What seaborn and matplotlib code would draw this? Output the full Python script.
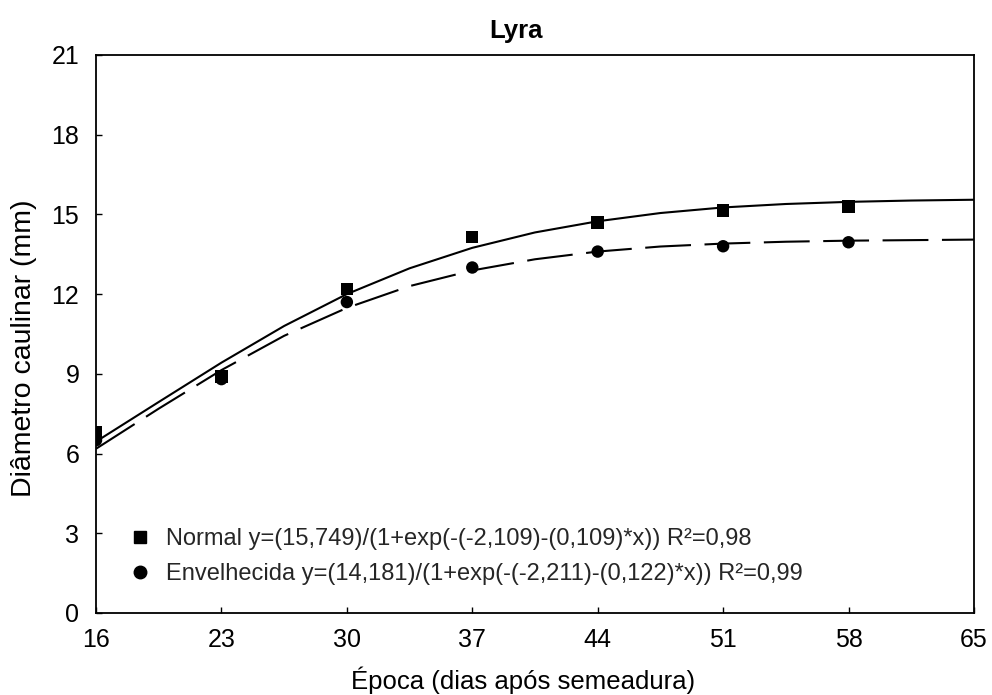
import matplotlib
matplotlib.use("Agg")
import matplotlib.pyplot as plt
from matplotlib.lines import Line2D
import seaborn as sns
import pandas as pd

# ---- data ----
days = [16, 23, 30, 37, 44, 51, 58]
normal_obs = [6.8, 8.9, 12.2, 14.15, 14.7, 15.15, 15.3]
aged_obs = [6.5, 8.8, 11.7, 13.0, 13.6, 13.8, 13.95]

curve_x = [16, 19.5, 23, 26.5, 30, 33.5, 37, 40.5, 44, 47.5, 51, 54.5, 58, 61.5, 65]
normal_fit = [6.45, 7.94, 9.42, 10.80, 12.00, 12.97, 13.74, 14.32, 14.74, 15.05, 15.26, 15.39, 15.47, 15.52, 15.55]
aged_fit = [6.18, 7.69, 9.14, 10.43, 11.48, 12.30, 12.89, 13.31, 13.60, 13.79, 13.90, 13.97, 14.01, 14.03, 14.05]

x_ticks = [16, 23, 30, 37, 44, 51, 58, 65]
y_ticks = [0, 3, 6, 9, 12, 15, 18, 21]

labels = ["Normal y=(15,749)/(1+exp(-(-2,109)-(0,109)*x)) R²=0,98",
          "Envelhecida y=(14,181)/(1+exp(-(-2,211)-(0,122)*x)) R²=0,99"]

sns.set_theme(style="ticks")
plt.rcParams['font.family'] = ['Liberation Sans', 'DejaVu Sans']

obs = pd.DataFrame({"x": days * 2, "y": normal_obs + aged_obs,
                    "g": ["Normal"] * len(days) + ["Envelhecida"] * len(days)})
fit_n = pd.DataFrame({"x": curve_x, "y": normal_fit})
fit_a = pd.DataFrame({"x": curve_x, "y": aged_fit})

fig = plt.figure(figsize=(9.92, 6.95), dpi=100)
ax = fig.add_axes([0.0968, 0.118, 0.885, 0.803])

sns.lineplot(data=fit_n, x="x", y="y", ax=ax, color="black", linewidth=1.5)
sns.lineplot(data=fit_a, x="x", y="y", ax=ax, color="black", linewidth=1.5)
ax.lines[-1].set_dashes((22, 6.5))
sns.scatterplot(data=obs, x="x", y="y", hue="g", style="g",
                markers={"Normal": "s", "Envelhecida": "o"},
                palette={"Normal": "black", "Envelhecida": "black"},
                s=80, ax=ax, legend=False, edgecolor="black", linewidth=0)

ax.set_xlim(16, 65)
ax.set_ylim(0, 21)
ax.set_xticks(x_ticks)
ax.set_yticks(y_ticks)
ax.tick_params(axis="both", labelsize=18, length=4, width=1, color="black",
               labelcolor="black", direction="in")
ax.tick_params(axis="x", pad=11)
ax.tick_params(axis="y", pad=12)
for sp in ax.spines.values():
    sp.set_visible(True)
    sp.set_color("black")
    sp.set_linewidth(1.3)

ax.set_xlabel("Época (dias após semeadura)", fontsize=18.5, color="black")
ax.set_ylabel("Diâmetro caulinar (mm)", fontsize=20.5, color="black")
ax.xaxis.set_label_coords(0.486, -0.095)
ax.yaxis.set_label_coords(-0.067, 0.475)
ax.set_title("Lyra", fontsize=18.5, fontweight="bold", color="black",
             x=0.478, pad=12)

handles = [Line2D([], [], marker="s", color="black", linestyle="none", markersize=9),
           Line2D([], [], marker="o", color="black", linestyle="none", markersize=9)]
ax.legend(handles, labels, loc="lower left", bbox_to_anchor=(0.021, 0.024),
          frameon=False, fontsize=17, handlelength=1.0, handletextpad=0.6,
          labelspacing=0.55, borderaxespad=0.2)

fig.savefig("out.png", dpi=100, facecolor="white")
